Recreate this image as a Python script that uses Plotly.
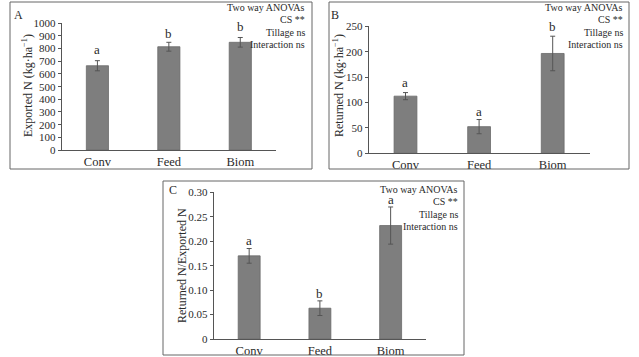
import plotly.graph_objects as go

W, H = 639, 357

categories = ["Conv", "Feed", "Biom"]

exported_n = [665, 815, 850]
exported_n_err = [40, 35, 38]
exported_letters = ["a", "b", "b"]

returned_n = [112.5, 52.5, 196.5]
returned_n_err = [7, 14, 34]
returned_letters = ["a", "a", "b"]

ratio = [0.170, 0.063, 0.232]
ratio_err = [0.015, 0.015, 0.038]
ratio_letters = ["a", "b", "a"]

ticks_a = [0, 100, 200, 300, 400, 500, 600, 700, 800, 900, 1000]
ticks_b = [0, 50, 100, 150, 200, 250]
ticks_c = [0, 0.05, 0.10, 0.15, 0.20, 0.25, 0.30]
ticktext_c = ["0", "0.05", "0.10", "0.15", "0.20", "0.25", "0.30"]

anova_lines = ["Two way ANOVAs", "CS **", "Tillage ns", "Interaction ns"]

FONT = "Liberation Serif, Times New Roman, serif"
TXT = "#2a2a2a"
BAR = "#7e7e7e"
BAR_LINE = "#6a6a6a"
AX = "#555555"


def px(x):
    return x / W


def py(y):
    return 1 - y / H


fig = go.Figure()

panels = [
    dict(vals=exported_n, err=exported_n_err, letters=exported_letters, xa="x", ya="y",
         dom_x=(61.7, 276), dom_y=(150, 23.3), rng=[0, 1000], tv=ticks_a, tt=[str(t) for t in ticks_a],
         title="Exported N (kg·ha<sup>−1</sup>)", title_xy=(27, 86),
         box=(10, 2, 312, 169), label="A", label_xy=(18, 15), anova_xy=(307, 7.5),
         shifts=[11, 9, 11]),
    dict(vals=returned_n, err=returned_n_err, letters=returned_letters, xa="x2", ya="y2",
         dom_x=(368.7, 589.5), dom_y=(153.3, 26.3), rng=[0, 250], tv=ticks_b, tt=[str(t) for t in ticks_b],
         title="Returned N (kg·ha<sup>−1</sup>)", title_xy=(338, 86),
         box=(329, 2, 629, 169), label="B", label_xy=(335, 15), anova_xy=(625, 7.5),
         shifts=[10.5, 8.5, 9.5]),
    dict(vals=ratio, err=ratio_err, letters=ratio_letters, xa="x3", ya="y3",
         dom_x=(213.8, 426), dom_y=(339, 192.3), rng=[0, 0.30], tv=ticks_c, tt=ticktext_c,
         title="Returned N/Exported N", title_xy=(181.5, 265.5),
         box=(163, 181, 464, 355), label="C", label_xy=(173, 190), anova_xy=(460, 189.5),
         shifts=[8.5, 7.5, 7]),
]

shapes = []
annotations = []
layout_axes = {}

for i, p in enumerate(panels):
    fig.add_trace(go.Bar(
        x=categories, y=p["vals"], xaxis=p["xa"], yaxis=p["ya"],
        width=0.31, marker=dict(color=BAR, line=dict(color=BAR_LINE, width=0.8)),
        error_y=dict(type="data", array=p["err"], visible=True, color="#555555", thickness=1, width=2.5),
        showlegend=False, hoverinfo="skip",
    ))
    sfx = "" if i == 0 else str(i + 1)
    layout_axes["xaxis" + sfx] = dict(
        domain=[px(p["dom_x"][0]), px(p["dom_x"][1])], anchor="y" + sfx,
        range=[-0.5, 2.5], showline=True, linecolor=AX, linewidth=1, ticks="",
        showgrid=False, zeroline=False, tickfont=dict(family=FONT, size=12.5, color=TXT),
        ticklabelstandoff=0, automargin=False,
    )
    layout_axes["yaxis" + sfx] = dict(
        domain=[py(p["dom_y"][0]), py(p["dom_y"][1])], anchor="x" + sfx,
        range=p["rng"], tickvals=p["tv"], ticktext=p["tt"], showline=True, linecolor=AX,
        linewidth=1, ticks="outside", ticklen=3, tickcolor=AX, showgrid=False, zeroline=False,
        tickfont=dict(family=FONT, size=11, color=TXT), automargin=False,
    )
    x0, y0, x1, y1 = p["box"]
    shapes.append(dict(type="rect", xref="paper", yref="paper", x0=px(x0), x1=px(x1),
                       y0=py(y1), y1=py(y0), line=dict(color="#666666", width=1)))
    annotations.append(dict(text=p["title"], xref="paper", yref="paper",
                            x=px(p["title_xy"][0]), y=py(p["title_xy"][1]), textangle=-90,
                            showarrow=False, xanchor="center", yanchor="middle",
                            font=dict(family=FONT, size=12, color=TXT)))
    annotations.append(dict(text=p["label"], xref="paper", yref="paper",
                            x=px(p["label_xy"][0]), y=py(p["label_xy"][1]),
                            showarrow=False, xanchor="center", yanchor="middle",
                            font=dict(family=FONT, size=12, color=TXT)))
    ax, ay = p["anova_xy"]
    for k, line in enumerate(anova_lines):
        annotations.append(dict(text=line, xref="paper", yref="paper",
                                x=px(ax), y=py(ay + k * 12.3), showarrow=False,
                                xanchor="right", yanchor="middle",
                                font=dict(family=FONT, size=10, color=TXT)))
    for c, v, e, letter, s in zip(categories, p["vals"], p["err"], p["letters"], p["shifts"]):
        annotations.append(dict(text=letter, xref=p["xa"], yref=p["ya"], x=c, y=v + e,
                                yshift=s, showarrow=False, xanchor="center", yanchor="middle",
                                font=dict(family=FONT, size=13, color=TXT)))

fig.update_layout(
    width=W, height=H, margin=dict(l=0, r=0, t=0, b=0),
    paper_bgcolor="white", plot_bgcolor="white",
    shapes=shapes, annotations=annotations, **layout_axes,
)

fig.write_html(
    "out.html",
    config={"displayModeBar": False, "staticPlot": True},
    post_script="document.body.style.margin='0';document.body.style.overflow='hidden';",
)
